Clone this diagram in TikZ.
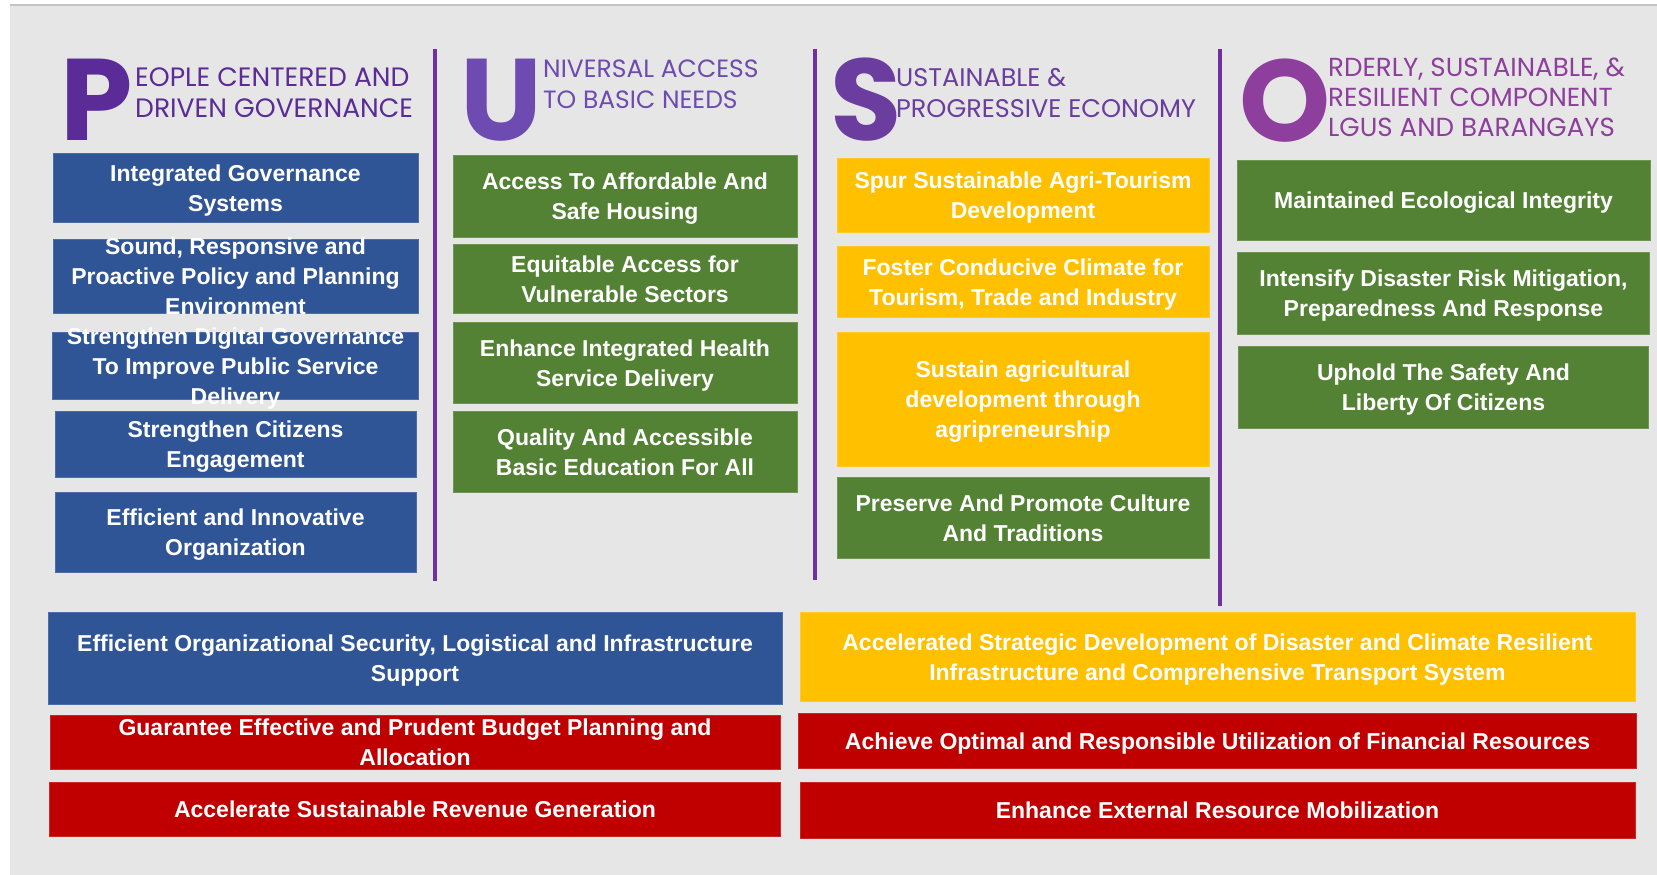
\documentclass[tikz,border=0pt]{standalone}
\usepackage{fontspec}
\setmainfont{Liberation Sans}
\newfontfamily\hdrfont{Poppins}
\usepackage{tikz}
\usetikzlibrary{positioning}

\definecolor{panel}{HTML}{E7E6E6}
\definecolor{rim}{HTML}{C4C4C4}
\definecolor{gblue}{HTML}{2F5597}
\definecolor{ggreen}{HTML}{548235}
\definecolor{gyellow}{HTML}{FFC000}
\definecolor{gred}{HTML}{C00000}
\definecolor{vline}{HTML}{7030A0}
\definecolor{pP}{HTML}{5B2C98}
\definecolor{pU}{HTML}{6D4BB0}
\definecolor{pS}{HTML}{6A3D9E}
\definecolor{pO}{HTML}{8E3E9C}

\begin{document}
\begin{tikzpicture}[x=1pt, y=-1pt,
  goal/.style={fill=#1, draw=#1!85!white, line width=1pt, inner xsep=4pt,
               inner ysep=-10pt, text depth=0pt, align=center, text=white,
               font=\fontsize{23}{30}\selectfont\bfseries},
  initial/.style={text=#1, inner sep=0pt, anchor=base west, text depth=0pt,
                  font=\hdrfont\bfseries\fontsize{116}{116}\selectfont},
  title/.style={text=#1, inner sep=0pt, anchor=north west, align=left,
                font=\hdrfont\fontsize{25}{31}\selectfont},
  divider/.style={vline, line width=4.5pt}
]
  \useasboundingbox (0,0) rectangle (1657,875);
  \fill[white] (0,0) rectangle (1657,875);
  \fill[panel] (10,5) rectangle (1657,875);
  \draw[rim, line width=1.5pt] (10,5) -- (1657,5);

  % pillar headings
  \node[initial=pP] (iniP) at (60,140) {P};
  \node[title=pP, font=\hdrfont\fontsize{26.6}{31}\selectfont] (hdrP) at (135,68)
    {EOPLE CENTERED AND\\DRIVEN GOVERNANCE};
  \node[initial=pU] (iniU) at (460,140) {U};
  \node[title=pU] (hdrU) at (543,60) {NIVERSAL ACCESS\\TO BASIC NEEDS};
  \node[initial=pS] (iniS) at (830,140) {S};
  \node[title=pS, font=\hdrfont\fontsize{25.5}{31}\selectfont] (hdrS) at (896,68)
    {USTAINABLE \&\\PROGRESSIVE ECONOMY};
  \node[initial=pO] (iniO) at (1239,141) {O};
  \node[title=pO, font=\hdrfont\fontsize{26.1}{30}\selectfont] (hdrO) at (1328,58)
    {RDERLY, SUSTAINABLE, \&\\RESILIENT COMPONENT\\LGUS AND BARANGAYS};

  \draw[divider] (435,49) -- (435,581);
  \draw[divider] (815,49) -- (815,580);
  \draw[divider] (1220,49) -- (1220,606);

  % P column
  \node[goal=gblue, minimum width=365pt, minimum height=69pt, anchor=north] (pg1)
    at (235.5,153) {Integrated Governance\\Systems};
  \node[goal=gblue, minimum width=365pt, minimum height=74pt, below=16pt of pg1] (pg2)
    {Sound, Responsive and\\Proactive Policy and Planning\\Environment};
  \node[goal=gblue, minimum width=366pt, minimum height=67pt, below=18pt of pg2] (pg3)
    {Strengthen Digital Governance\\To Improve Public Service\\Delivery};
  \node[goal=gblue, minimum width=361pt, minimum height=66pt, below=11pt of pg3] (pg4)
    {Strengthen Citizens\\Engagement};
  \node[goal=gblue, minimum width=361pt, minimum height=80pt, below=14pt of pg4] (pg5)
    {Efficient and Innovative\\Organization};

  % U column
  \node[goal=ggreen, minimum width=344pt, minimum height=82pt, anchor=north] (ug1)
    at (625,155) {Access To Affordable And\\Safe Housing};
  \node[goal=ggreen, minimum width=344pt, minimum height=69pt, below=6pt of ug1] (ug2)
    {Equitable Access for\\Vulnerable Sectors};
  \node[goal=ggreen, minimum width=344pt, minimum height=81pt, below=8pt of ug2] (ug3)
    {Enhance Integrated Health\\Service Delivery};
  \node[goal=ggreen, minimum width=344pt, minimum height=81pt, below=7pt of ug3] (ug4)
    {Quality And Accessible\\Basic Education For All};

  % S column
  \node[goal=gyellow, minimum width=372pt, minimum height=74pt, anchor=north] (sg1)
    at (1023,158) {Spur Sustainable Agri-Tourism\\Development};
  \node[goal=gyellow, minimum width=372pt, minimum height=71pt, below=13pt of sg1] (sg2)
    {Foster Conducive Climate for\\Tourism, Trade and Industry};
  \node[goal=gyellow, minimum width=372pt, minimum height=134pt, below=14pt of sg2] (sg3)
    {Sustain agricultural\\development through\\agripreneurship};
  \node[goal=ggreen, minimum width=372pt, minimum height=81pt, below=10pt of sg3] (sg4)
    {Preserve And Promote Culture\\And Traditions};

  % O column
  \node[goal=ggreen, minimum width=413pt, minimum height=80pt, anchor=north] (og1)
    at (1443.5,160) {Maintained Ecological Integrity};
  \node[goal=ggreen, minimum width=412pt, minimum height=82pt, below=11pt of og1] (og2)
    {Intensify Disaster Risk Mitigation,\\Preparedness And Response};
  \node[goal=ggreen, minimum width=410pt, minimum height=82pt, below=11pt of og2] (og3)
    {Uphold The Safety And\\Liberty Of Citizens};

  % cross-cutting goals
  \node[goal=gblue, minimum width=734pt, minimum height=92pt, anchor=north] (cl1)
    at (415,612) {Efficient Organizational Security, Logistical and Infrastructure\\Support};
  \node[goal=gred, minimum width=730pt, minimum height=54pt, below=10pt of cl1] (cl2)
    {Guarantee Effective and Prudent Budget Planning and\\Allocation};
  \node[goal=gred, minimum width=731pt, minimum height=54pt, below=12pt of cl2] (cl3)
    {Accelerate Sustainable Revenue Generation};

  \node[goal=gyellow, minimum width=835pt, minimum height=89pt, anchor=north] (cr1)
    at (1217.5,612) {Accelerated Strategic Development of Disaster and Climate Resilient\\Infrastructure and Comprehensive Transport System};
  \node[goal=gred, minimum width=838pt, minimum height=55pt, below=11pt of cr1] (cr2)
    {Achieve Optimal and Responsible Utilization of Financial Resources};
  \node[goal=gred, minimum width=835pt, minimum height=56pt, below=13pt of cr2] (cr3)
    {Enhance External Resource Mobilization};
\end{tikzpicture}
\end{document}
